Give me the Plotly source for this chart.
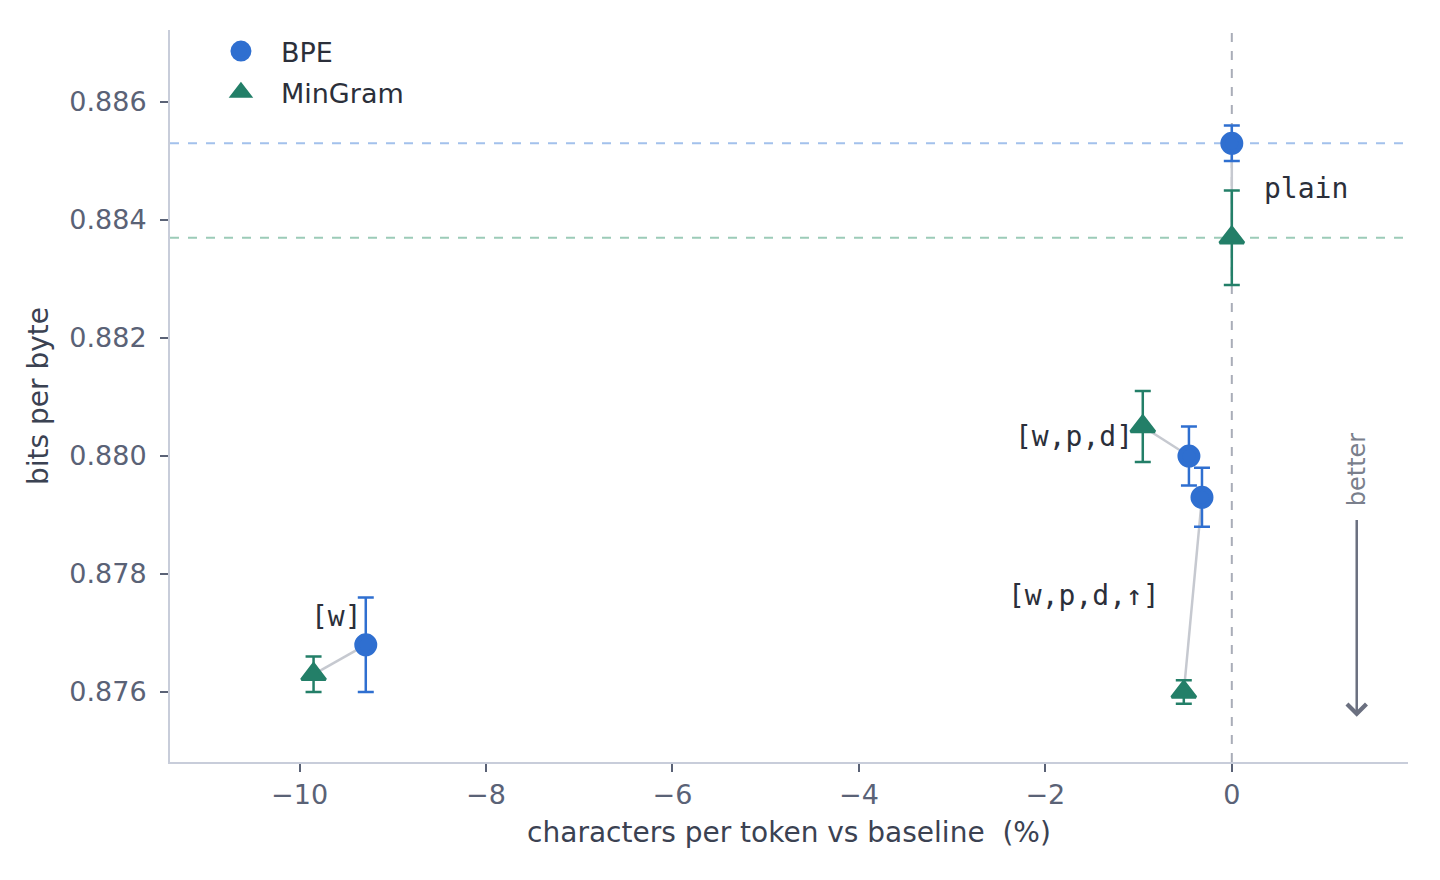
import plotly.graph_objects as go

# configs, same order for both tokenizers
configs = ['plain', '[w,p,d]', '[w,p,d,↑]', '[w]']

bpe_x = [0.0, -0.46, -0.32, -9.29]
bpe_y = [0.8853, 0.8800, 0.8793, 0.8768]
bpe_err = [0.0003, 0.0005, 0.0005, 0.0008]

mg_x = [0.0, -0.955, -0.515, -9.85]
mg_y = [0.8837, 0.8805, 0.8760, 0.8763]
mg_err = [0.0008, 0.0006, 0.0002, 0.0003]

yticks = [0.876, 0.878, 0.880, 0.882, 0.884, 0.886]
xticks = [-10, -8, -6, -4, -2, 0]

BLUE = '#2f6fd0'
GREEN = '#237f68'
FONT = 'DejaVu Sans'
MONO = 'DejaVu Sans Mono'

fig = go.Figure()

# grey connectors between BPE and MinGram of the same config
for i in range(len(configs)):
    fig.add_trace(go.Scatter(x=[mg_x[i], bpe_x[i]], y=[mg_y[i], bpe_y[i]], mode='lines',
                             line=dict(color='#c6c9d0', width=2.5), showlegend=False, hoverinfo='skip'))

fig.add_trace(go.Scatter(x=bpe_x, y=bpe_y, mode='markers', name='BPE', legendgroup='bpe',
                         marker=dict(symbol='circle', size=18, color=BLUE, line=dict(color=BLUE, width=5)),
                         error_y=dict(type='data', array=bpe_err, color=BLUE, thickness=2.5, width=8)))
fig.add_trace(go.Scatter(x=mg_x, y=mg_y, mode='markers', name='MinGram', legendgroup='mg',
                         marker=dict(symbol='triangle-up', size=21, color=GREEN, line=dict(color=GREEN, width=3)),
                         error_y=dict(type='data', array=mg_err, color=GREEN, thickness=2.5, width=8)))

# baselines (plain)
fig.add_hline(y=bpe_y[0], line_color='#a3c1ec', line_width=2, line_dash='dash', layer='below')
fig.add_hline(y=mg_y[0], line_color='#9ccbb8', line_width=2, line_dash='dash', layer='below')
fig.add_vline(x=0, line_color='#a9adb8', line_width=2, line_dash='dash', layer='below')

# config labels
lab = dict(font=dict(family=MONO, size=28, color='#2b2f3a'), showarrow=False)
fig.add_annotation(x=bpe_x[0], y=bpe_y[0], text='plain', xanchor='left', xshift=30, yshift=-45, **lab)
fig.add_annotation(x=mg_x[1], y=mg_y[1], text='[w,p,d]', xanchor='right', xshift=-8, yshift=-10, **lab)
fig.add_annotation(x=mg_x[2], y=mg_y[2], text='[w,p,d,↑]', xanchor='right', xshift=-22, yshift=97, **lab)
fig.add_annotation(x=bpe_x[3], y=bpe_y[3], text='[w]', xanchor='right', xshift=-2, yshift=28, **lab)

# "better" arrow
fig.add_annotation(x=1.34, y=0.87558, ax=1.34, ay=0.87894, axref='x', ayref='y',
                   showarrow=True, arrowhead=4, arrowsize=1.5, arrowwidth=2.5, arrowcolor='#6b7080', text='')
fig.add_annotation(x=1.34, y=0.87894, text='better', textangle=-90, showarrow=False,
                   yanchor='bottom', yshift=10, font=dict(family=FONT, size=24, color='#7a7f8c'))

# page body adds ~8px offset; margins compensate
fig.update_layout(
    width=1440, height=880,
    plot_bgcolor='white', paper_bgcolor='white',
    margin=dict(l=162, r=40, t=22, b=126),
    font=dict(family=FONT, size=25, color='#3b4252'),
    legend=dict(x=0.025, y=1.004, xanchor='left', yanchor='top', bgcolor='rgba(0,0,0,0)',
                font=dict(family=FONT, size=27, color='#2b2f3a'),
                traceorder='grouped', tracegroupgap=3, itemwidth=70),
)
fig.update_xaxes(range=[-11.39, 1.89], tickvals=xticks, showgrid=False, zeroline=False,
                 showline=True, linecolor='#c8cdda', linewidth=2,
                 ticks='outside', ticklen=8, tickwidth=2, tickcolor='#5a6276',
                 tickfont=dict(size=27, color='#5a6276'),
                 title=dict(text='characters per token vs baseline  (%)', standoff=13,
                            font=dict(size=28, color='#3b4252')))
fig.update_yaxes(range=[0.874814, 0.88722], tickvals=yticks, tickformat='.3f', showgrid=False, zeroline=False,
                 showline=True, linecolor='#c8cdda', linewidth=2,
                 ticks='outside', ticklen=8, tickwidth=2, tickcolor='#5a6276',
                 tickfont=dict(size=27, color='#5a6276'), ticklabelstandoff=8,
                 title=dict(text='bits per byte', standoff=13, font=dict(size=28, color='#3b4252')))

fig.write_html('out.html')
